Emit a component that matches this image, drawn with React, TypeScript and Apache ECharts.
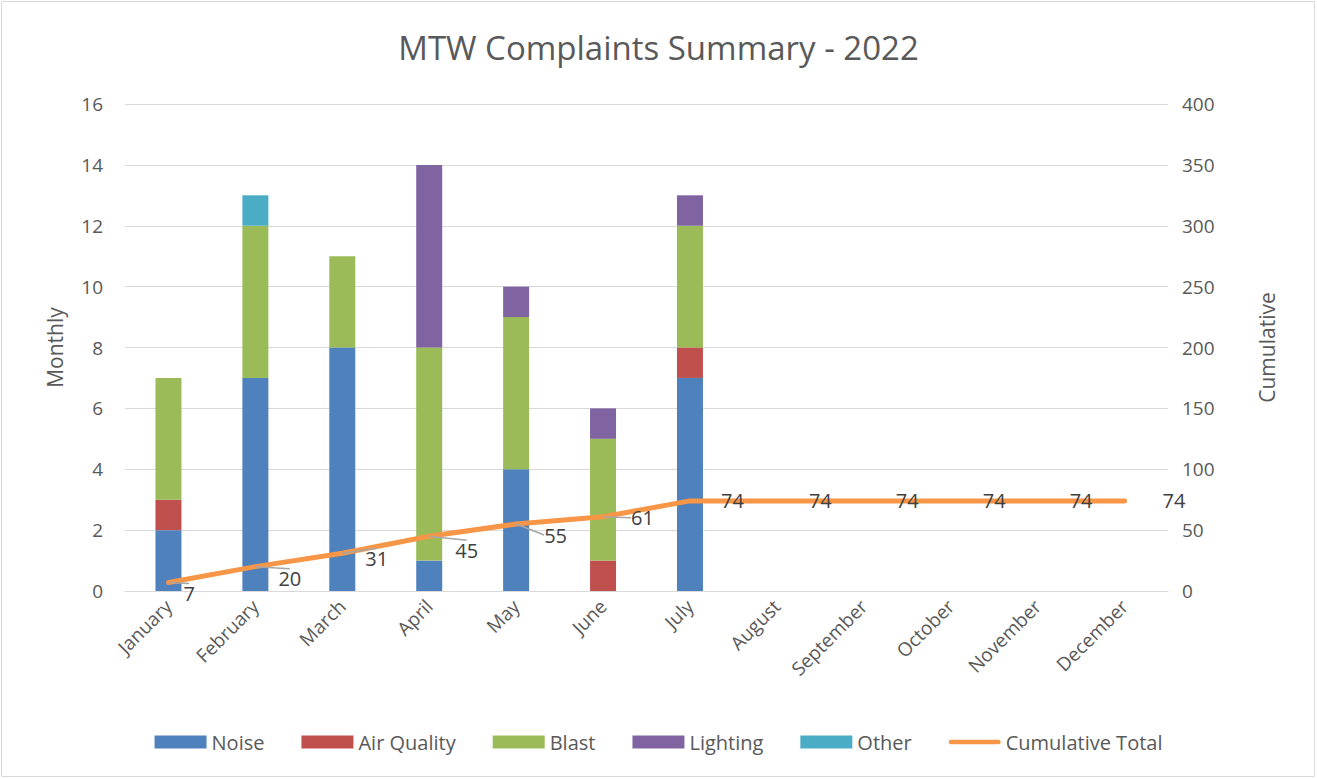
import React, { useEffect, useRef } from "react";
import * as echarts from "echarts";

const months = ["January","February","March","April","May","June","July","August","September","October","November","December"];
const noise = [2, 7, 8, 1, 4, 0, 7, null, null, null, null, null];
const airQuality = [1, 0, 0, 0, 0, 1, 1, null, null, null, null, null];
const blast = [4, 5, 3, 7, 5, 4, 4, null, null, null, null, null];
const lighting = [0, 0, 0, 6, 1, 1, 1, null, null, null, null, null];
const other = [0, 1, 0, 0, 0, 0, 0, null, null, null, null, null];
const cumulative = [7, 20, 31, 45, 55, 61, 74, 74, 74, 74, 74, 74];

const FONT = "'Open Sans', 'Noto Sans', sans-serif";
const TXT = "#595959";

export default function App() {
  const ref = useRef<HTMLDivElement>(null);
  useEffect(() => {
    if (!ref.current) return;
    const chart = echarts.init(ref.current, null, { renderer: "svg" });
    const labelDy = [11, 12, 5, 14, 11, 1, 0, 0, 0, 0, 0, 0];
    const labelDx = [10, 18, 18, 21, 23, 23, 26, 27, 27, 27, 27, 33];
    const lineData = cumulative.map((v, i) =>
      i >= 6 ? { value: v, labelLine: { show: false } } : v
    );
    const bar = (name: string, data: (number | null)[], color: string) => ({
      name,
      type: "bar",
      stack: "m",
      data,
      barWidth: 26,
      itemStyle: { color },
      emphasis: { disabled: true },
    });
    chart.setOption({
      animation: false,
      textStyle: { fontFamily: FONT },
      title: {
        text: "MTW Complaints Summary - 2022",
        left: "center",
        top: 26,
        textStyle: { fontFamily: FONT, fontSize: 33, fontWeight: "normal", color: TXT },
      },
      graphic: [
        {
          type: "rect",
          shape: { x: 1.5, y: 1.5, width: 1313, height: 775 },
          style: { fill: "none", stroke: "#d9d9d9", lineWidth: 1 },
          silent: true,
        },
      ],
      grid: { left: 125, right: 149, top: 104, bottom: 188 },
      legend: {
        bottom: 22,
        left: "center",
        itemWidth: 52,
        itemHeight: 13,
        itemGap: 37,
        symbolKeepAspect: true,
        textStyle: { fontFamily: FONT, fontSize: 20, color: TXT },
        data: [
          { name: "Noise", icon: "rect" },
          { name: "Air Quality", icon: "rect" },
          { name: "Blast", icon: "rect" },
          { name: "Lighting", icon: "rect" },
          { name: "Other", icon: "rect" },
          {
            name: "Cumulative Total",
            icon: "path://M2.5,0 L53.5,0 A2.5,2.5 0 0 1 53.5,5 L2.5,5 A2.5,2.5 0 0 1 2.5,0 Z",
          },
        ],
      },
      xAxis: {
        type: "category",
        data: months,
        axisLine: { lineStyle: { color: "#d9d9d9", width: 1 } },
        axisTick: { show: false },
        axisLabel: { rotate: 45, fontSize: 19, color: TXT, fontFamily: FONT, margin: 12, interval: 0 },
      },
      yAxis: [
        {
          type: "value",
          min: 0,
          max: 16,
          interval: 2,
          name: "Monthly",
          nameLocation: "middle",
          nameGap: 60,
          nameTextStyle: { fontFamily: FONT, fontSize: 21, color: TXT },
          axisLabel: { fontSize: 19, color: TXT, fontFamily: FONT, margin: 22 },
          splitLine: { lineStyle: { color: "#d9d9d9" } },
          axisLine: { show: false },
          axisTick: { show: false },
        },
        {
          type: "value",
          min: 0,
          max: 400,
          interval: 50,
          name: "Cumulative",
          nameLocation: "middle",
          nameGap: 88,
          nameRotate: 90,
          nameTextStyle: { fontFamily: FONT, fontSize: 21, color: TXT },
          axisLabel: { fontSize: 19, color: TXT, fontFamily: FONT, margin: 14 },
          splitLine: { show: false },
          axisLine: { show: false },
          axisTick: { show: false },
        },
      ],
      series: [
        bar("Noise", noise, "#4F81BD"),
        bar("Air Quality", airQuality, "#C0504D"),
        bar("Blast", blast, "#9BBB59"),
        bar("Lighting", lighting, "#8064A2"),
        bar("Other", other, "#4BACC6"),
        {
          name: "Cumulative Total",
          type: "line",
          yAxisIndex: 1,
          data: lineData,
          symbol: "circle",
          symbolSize: 0,
          showSymbol: true,
          lineStyle: { color: "#F79646", width: 5, cap: "round", join: "round" },
          itemStyle: { color: "#F79646" },
          emphasis: { disabled: true },
          label: {
            show: true,
            position: "right",
            distance: 5,
            fontSize: 20,
            color: "#404040",
            fontFamily: FONT,
          },
          labelLine: { show: true, lineStyle: { color: "#a6a6a6", width: 1.5 } },
          labelLayout: (p: any) => ({
            dx: labelDx[p.dataIndex],
            dy: labelDy[p.dataIndex],
          }),
          z: 5,
        },
      ],
    });
    return () => chart.dispose();
  }, []);
  return (
    <div
      ref={ref}
      style={{ position: "fixed", left: 0, top: 0, width: 1317, height: 779, background: "#fff" }}
    />
  );
}
